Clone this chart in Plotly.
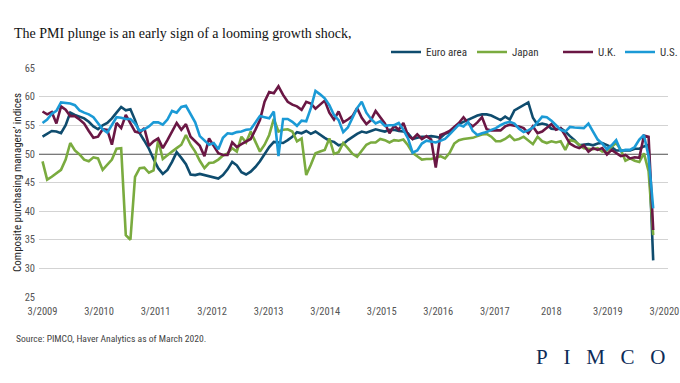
import plotly.graph_objects as go

# ---------------- data ----------------
tick_labels = ["3/2009", "3/2010", "3/2011", "3/2012", "3/2013", "3/2014",
               "3/2015", "3/2016", "3/2017", "2018", "3/2019", "3/2020"]

euro_area = [53.0, 53.5, 54.0, 53.9, 53.6, 55.0, 57.2, 56.8, 56.5, 56.2,
             55.6, 54.8, 54.3, 55.0, 55.4, 56.2, 57.2, 58.2, 57.6, 57.8,
             55.9, 53.6, 52.3, 50.9, 49.1, 47.5, 46.5, 47.2, 48.6, 50.3,
             49.3, 48.2, 46.4, 46.3, 46.5, 46.3, 46.1, 46.0, 45.7, 46.3,
             47.3, 48.6, 48.0, 46.8, 46.4, 46.9, 47.7, 48.7, 49.9, 51.2,
             52.1, 52.0, 51.9, 52.4, 53.0, 53.8, 53.6, 54.0, 53.5, 53.9,
             53.3, 52.8, 52.3, 52.1, 51.5, 51.7, 52.4, 53.0, 53.5, 53.9,
             53.7, 54.0, 54.3, 54.1, 53.9, 54.2, 54.2, 54.0, 53.9, 53.6,
             52.6, 52.8, 53.0, 53.0, 53.1, 53.0, 52.8, 53.5, 53.8, 54.6,
             55.2, 55.6, 56.0, 56.4, 56.7, 56.9, 56.9, 56.7, 56.3, 55.9,
             56.5, 56.0, 57.6, 58.1, 58.6, 59.0, 56.3, 55.1, 55.3, 55.1,
             54.4, 54.3, 54.5, 53.9, 53.1, 52.4, 51.5, 51.6, 51.7, 51.5,
             51.8, 51.9, 51.5, 51.2, 50.6, 50.6, 50.7, 50.6, 50.9, 50.9,
             51.3, 51.6, 31.4]

japan = [48.7, 45.5, 46.0, 46.6, 47.2, 49.0, 51.9, 50.6, 49.9, 49.0,
         48.7, 49.4, 49.2, 47.2, 48.1, 49.0, 50.9, 51.0, 35.8, 35.0,
         46.0, 47.5, 47.6, 46.7, 47.1, 52.4, 49.1, 49.8, 50.4, 51.0,
         51.6, 53.3, 51.6, 50.4, 48.8, 47.5, 48.4, 48.5, 49.0, 49.7,
         50.1, 51.0, 50.4, 53.0, 52.0, 53.9, 52.2, 50.4, 51.6, 53.3,
         56.1, 53.9, 54.2, 54.3, 53.9, 52.2, 52.7, 46.3, 48.1, 50.1,
         50.4, 50.7, 52.7, 50.0, 50.3, 51.9, 51.0, 50.0, 49.5, 50.5,
         51.6, 52.0, 52.0, 52.6, 52.4, 52.0, 52.4, 52.3, 52.5, 51.5,
         50.2, 49.6, 49.0, 49.1, 49.1, 49.3, 49.6, 49.2, 50.2, 51.8,
         52.4, 52.6, 52.7, 52.8, 53.1, 53.4, 53.5, 53.0, 52.2, 52.2,
         52.6, 53.2, 52.4, 52.6, 53.0, 52.4, 51.7, 53.0, 52.2, 51.9,
         52.2, 52.0, 52.2, 50.7, 52.4, 52.2, 51.6, 51.0, 50.9, 50.8,
         51.0, 50.4, 50.6, 51.3, 51.9, 50.7, 48.8, 49.2, 48.8, 48.6,
         50.1, 47.0, 35.8]

uk = [57.4, 56.9, 57.3, 55.3, 58.3, 57.7, 56.6, 56.6, 56.0, 55.3,
      54.0, 52.8, 53.0, 54.3, 54.2, 51.6, 55.4, 54.5, 56.8, 55.3,
      53.9, 53.7, 54.5, 51.4, 52.2, 52.7, 51.0, 52.4, 54.0, 55.4,
      54.2, 55.2, 53.0, 52.2, 51.4, 49.6, 52.7, 51.4, 50.1, 49.8,
      49.8, 52.0, 51.2, 51.7, 52.2, 52.6, 54.2, 55.9, 59.1, 60.8,
      60.6, 61.8, 60.3, 59.1, 58.6, 58.3, 57.7, 59.1, 58.8, 57.9,
      58.6, 59.3, 57.2, 56.0, 57.4, 55.5, 56.0, 56.6, 58.0, 56.3,
      55.2, 55.9, 57.5, 56.3, 55.3, 53.6, 54.9, 54.2, 55.4, 53.2,
      52.6, 53.4, 52.6, 53.1, 52.5, 47.6, 53.3, 53.6, 54.0, 54.7,
      55.4, 56.4, 55.4, 54.8, 55.5, 56.4, 54.3, 54.1, 54.1, 54.1,
      54.8, 55.1, 54.9, 54.8, 54.5, 53.6, 54.8, 53.6, 53.9, 54.5,
      55.2, 54.2, 54.5, 53.2, 51.8, 51.3, 51.0, 51.5, 50.4, 51.0,
      50.7, 51.0, 49.9, 50.7, 50.2, 49.6, 49.8, 49.2, 49.4, 49.3,
      53.2, 53.0, 36.7]

us = [55.4, 56.0, 57.0, 57.5, 59.0, 58.9, 58.8, 58.5, 57.6, 57.2,
      56.9, 56.4, 55.3, 54.3, 53.7, 55.0, 56.4, 56.3, 56.1, 56.1,
      55.3, 54.0, 54.3, 54.8, 55.5, 55.5, 55.1, 56.0, 57.5, 57.2,
      58.2, 58.4, 56.9, 55.5, 53.1, 52.4, 51.6, 51.9, 50.8, 52.8,
      53.6, 53.5, 53.8, 53.9, 54.2, 54.3, 55.5, 56.6, 56.4, 56.2,
      57.4, 49.6, 56.1, 56.1, 55.6, 54.9, 55.8, 55.7, 58.0, 61.0,
      60.4, 59.7, 58.5, 56.8, 55.9, 53.8, 54.6, 56.3, 58.0, 59.1,
      57.2, 56.1, 55.3, 55.7, 54.9, 55.0, 55.0, 55.4, 54.2, 52.7,
      50.2, 50.6, 51.8, 52.3, 52.1, 52.0, 52.3, 52.6, 53.4, 54.2,
      55.1, 54.8, 55.6, 54.0, 53.3, 53.6, 53.8, 54.2, 54.5, 55.0,
      55.4, 55.6, 55.3, 54.4, 53.8, 54.1, 54.6, 55.5, 56.5, 56.4,
      55.8, 55.0, 54.2, 53.9, 54.7, 54.6, 54.5, 54.5, 55.3, 54.0,
      52.5, 51.8, 50.8, 51.5, 52.4, 50.5, 50.7, 50.7, 51.2, 52.5,
      53.3, 49.6, 40.5]

series_names = ["Euro area", "Japan", "U.K.", "U.S."]
series_values = [euro_area, japan, uk, us]
series_colors = ["#0f4c6e", "#7aab3f", "#6a1744", "#1b9ad6"]
legend_ids = ["legend", "legend2", "legend3", "legend4"]
legend_left_px = [386, 472, 558, 620]

threshold = 50
months = list(range(len(euro_area)))
tick_positions = [k * 12.22 for k in range(len(tick_labels))]

narrow = "Liberation Sans Narrow, Roboto Condensed, Arial Narrow, Roboto, sans-serif"

fig = go.Figure()
for name, vals, col, lg in zip(series_names, series_values, series_colors, legend_ids):
    fig.add_trace(go.Scatter(x=months, y=vals, mode="lines", name=name,
                             legend=lg, line=dict(color=col, width=2.6)))

fig.add_shape(type="line", xref="paper", x0=0, x1=1, yref="y",
              y0=threshold, y1=threshold, layer="below",
              line=dict(color="#7a7a7a", width=2))

legend_style = dict(orientation="h", xanchor="left", xref="container",
                    y=1 - 52 / 383, yanchor="middle", yref="container",
                    font=dict(family=narrow, size=11, color="#333"),
                    bgcolor="rgba(0,0,0,0)", itemwidth=30)
legends = {lg: dict(legend_style, x=px / 680) for lg, px in zip(legend_ids, legend_left_px)}

fig.update_layout(
    width=680, height=383,
    margin=dict(l=39, r=12, t=68, b=86, autoexpand=False),
    paper_bgcolor="white", plot_bgcolor="white",
    showlegend=True,
    title=dict(text="The PMI plunge is an early sign of a looming growth shock,",
               x=14 / 680, xanchor="left", xref="container",
               y=1 - 33 / 383, yanchor="middle", yref="container",
               font=dict(family="Liberation Serif, DejaVu Serif, serif", size=14, color="#111")),
    xaxis=dict(range=[-0.76, 135.2], showgrid=False, zeroline=False, showline=False,
               automargin=False,
               tickmode="array", tickvals=tick_positions, ticktext=tick_labels,
               ticks="outside", ticklen=4, tickcolor="rgba(0,0,0,0)",
               tickfont=dict(family=narrow, size=10.5, color="#555")),
    yaxis=dict(range=[25, 65], dtick=5, tick0=25, showgrid=True, automargin=False,
               gridcolor="#d3d3d3", gridwidth=1, zeroline=False, showline=False,
               ticks="", ticklabelstandoff=3,
               tickfont=dict(family=narrow, size=10.5, color="#555"),
               title=dict(text="Composite purchasing managers\u2019 indices",
                          font=dict(family=narrow, size=11, color="#222"),
                          standoff=0)),
    **legends,
)

fig.add_annotation(text="Source: PIMCO, Haver Analytics as of March 2020.",
                   xref="paper", yref="paper", x=-25 / 629, y=-41 / 229,
                   xanchor="left", yanchor="middle", showarrow=False,
                   font=dict(family=narrow, size=9.6, color="#444"))
fig.add_annotation(text="P\u00a0\u00a0\u00a0I\u00a0\u00a0\u00a0M\u00a0\u00a0\u00a0C\u00a0\u00a0\u00a0O",
                   xref="paper", yref="paper", x=1, y=-60 / 229,
                   xanchor="right", yanchor="middle", showarrow=False,
                   font=dict(family="Liberation Serif, DejaVu Serif, serif", size=21, color="#0d2b57"))

fig.write_html("out.html", config={"displayModeBar": False},
               post_script="document.body.style.margin='0';document.body.style.overflow='hidden';")
